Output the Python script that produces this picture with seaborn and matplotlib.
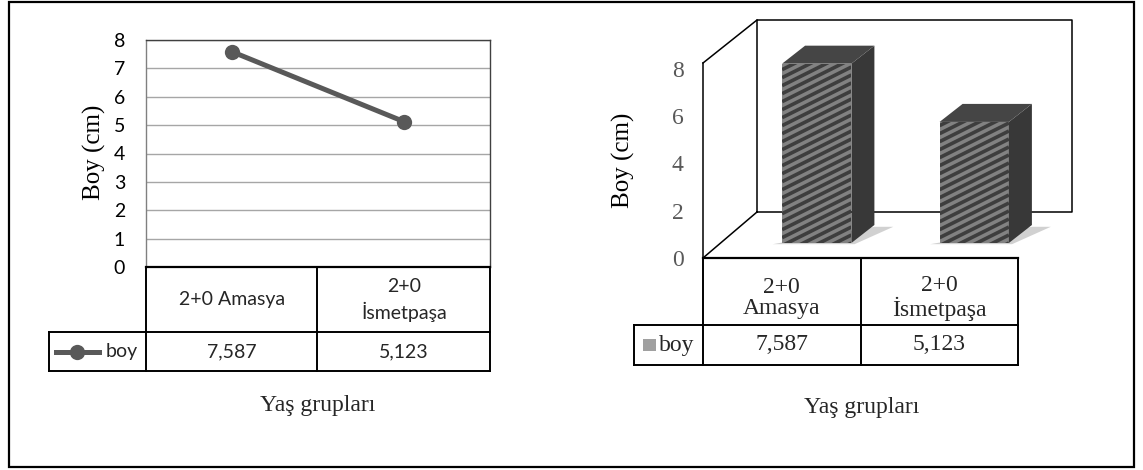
import numpy as np
import matplotlib
matplotlib.use("Agg")
import matplotlib.pyplot as plt
import matplotlib.transforms as mtransforms
from matplotlib.collections import LineCollection
from matplotlib.lines import Line2D
from matplotlib.patches import Polygon, Rectangle
import pandas as pd
import seaborn as sns

# ---- data -------------------------------------------------------------
groups = ["2+0 Amasya", "2+0 İsmetpaşa"]
group_labels_left = ["2+0 Amasya", "2+0\nİsmetpaşa"]
group_labels_right = ["2+0\nAmasya", "2+0\nİsmetpaşa"]
boy = [7.587, 5.123]
boy_text = ["7,587", "5,123"]
series_name = "boy"
y_label = "Boy (cm)"
x_label = "Yaş grupları"
left_ticks = list(range(0, 9))
right_ticks = [0, 2, 4, 6, 8]

# ---- figure setup ------------------------------------------------------
W, H = 1143, 470
sns.set_theme(style="white")
plt.rcParams["font.family"] = ["DejaVu Sans"]

SANS = "Lato"
SERIF = "Liberation Serif"

fig = plt.figure(figsize=(W / 100, H / 100), dpi=100)
fig.patch.set_facecolor("white")


def fx(x):
    return x / W


def fy(y):
    return 1 - y / H


def fig_line(xs, ys, lw=1.4, color="black", target=None, zorder=3):
    ln = Line2D([fx(x) for x in xs], [fy(y) for y in ys],
                transform=fig.transFigure, color=color, lw=lw,
                solid_capstyle="projecting", zorder=zorder, clip_on=False)
    if target is None:
        fig.add_artist(ln)
    else:
        target.add_line(ln)
    return ln


# outer frame
fig.add_artist(Rectangle((fx(9), fy(467)), fx(1134) - fx(9), fy(2) - fy(467),
                         transform=fig.transFigure, fill=False,
                         edgecolor="black", lw=1.6))

df = pd.DataFrame({"grup": groups, "boy": boy})

# ---- left chart: line with data table -----------------------------------
axL = fig.add_axes([fx(146), fy(267), fx(490) - fx(146), fy(40) - fy(267)])
sns.lineplot(data=df, x="grup", y="boy", ax=axL, color="#595959", lw=3.6,
             marker="o", markersize=11, markeredgewidth=0, sort=False,
             zorder=5)
axL.set_xlim(-0.5, 1.5)
axL.set_ylim(0, 8)
axL.set_yticks(left_ticks)
axL.set_xticks([])
axL.set_xlabel("")
axL.grid(axis="y", color="#a6a6a6", lw=1.0)
axL.tick_params(axis="y", length=0, pad=15, labelsize=14, labelcolor="black")
for lab in axL.get_yticklabels():
    lab.set_fontfamily(SANS)
for side, col, lw in [("left", "#808080", 1.0), ("top", "#404040", 1.0),
                      ("right", "#404040", 1.0), ("bottom", "black", 1.6)]:
    axL.spines[side].set_color(col)
    axL.spines[side].set_linewidth(lw)
axL.set_ylabel(y_label, fontfamily=SERIF, fontsize=18, color="black")
axL.yaxis.set_label_coords((106 - 146) / 344, (267 - 152) / 227)

# table grid under the left chart
for x in (146, 317, 490):
    fig_line([x, x], [267, 371])
fig_line([49, 490], [332, 332])
fig_line([49, 490], [371, 371])
fig_line([49, 49], [332, 371])

bL = mtransforms.blended_transform_factory(axL.transData, fig.transFigure)
for i, (lab, val) in enumerate(zip(group_labels_left, boy_text)):
    axL.text(i, fy(300), lab, transform=bL, ha="center", va="center",
             fontfamily=SANS, fontsize=14, linespacing=1.35, clip_on=False)
    axL.text(i, fy(352), val, transform=bL, ha="center", va="center",
             fontfamily=SANS, fontsize=14, clip_on=False)

# legend key in the left table
fig_line([56, 99], [352, 352], lw=3.6, color="#595959")
fig.add_artist(Line2D([fx(77)], [fy(352)], transform=fig.transFigure,
                      marker="o", markersize=11, markeredgewidth=0,
                      color="#595959", lw=0))
fig.text(fx(106), fy(352), series_name, ha="left", va="center",
         fontfamily=SANS, fontsize=14)
fig.text(fx(318), fy(405), x_label, ha="center", va="center",
         fontfamily=SERIF, fontsize=17)

# ---- right chart: pseudo-3D columns with data table ---------------------
axR = fig.add_axes([fx(703), fy(258), 315 / W, fy(63) - fy(258)])
axR.set_xlim(-0.5, 1.5)
axR.set_ylim(0, 8.25)

sns.barplot(data=df, x="grup", y="boy", ax=axR, width=0.44, color="#828282",
            saturation=1, linewidth=0, zorder=4)

# walls of the 3D box (back wall, side wall, floor edge)
fig_line([757, 757, 1072, 1072, 757], [212, 20, 20, 212, 212], lw=1.1,
         target=axR, zorder=0.5)
fig_line([703, 757], [63, 20], lw=1.1, target=axR, zorder=0.5)
fig_line([703, 757], [258, 212], lw=1.1, target=axR, zorder=0.5)

# pixel size of one data unit on this axes
px_x = 1 / 157.5
px_y = 8.25 / 195

# columns sit part-way back in the box
shift = mtransforms.offset_copy(axR.transData, fig=fig, x=35, y=15,
                                units="dots")
dx_d, dy_d = 23 * px_x, 18 * px_y
for p in list(axR.patches):
    p.set_transform(shift)
    p.set_clip_on(False)
    x0, w, h = p.get_x(), p.get_width(), p.get_height()

    # diagonal stripes on the front face
    w_px = w / px_x
    rise = 0.5 * w_px * px_y
    step = 8 * px_y
    starts = np.arange(-rise - step, h + step, step)
    segs = [[(x0, s), (x0 + w, s + rise)] for s in starts]
    stripes = LineCollection(segs, colors="#3e3e3e", linewidths=2.6,
                             transform=shift, zorder=4.1)
    axR.add_collection(stripes)
    stripes.set_clip_path(p)

    # soft floor shadow
    axR.add_patch(Polygon([(x0 - 0.06, -0.05), (x0 + w + 0.02, -0.05),
                           (x0 + w + dx_d + 0.12, dy_d * 0.9),
                           (x0 + w + dx_d, dy_d * 0.9)],
                          closed=True, transform=shift, facecolor="#9a9a9a",
                          edgecolor="none", alpha=0.45, zorder=3,
                          clip_on=False))
    side = Polygon([(x0 + w, 0), (x0 + w + dx_d, dy_d),
                    (x0 + w + dx_d, h + dy_d), (x0 + w, h)],
                   closed=True, transform=shift, facecolor="#383838",
                   edgecolor="none", zorder=4, clip_on=False)
    top = Polygon([(x0, h), (x0 + dx_d, h + dy_d), (x0 + w + dx_d, h + dy_d),
                   (x0 + w, h)],
                  closed=True, transform=shift, facecolor="#454545",
                  edgecolor="none", zorder=4, clip_on=False)
    axR.add_patch(side)
    axR.add_patch(top)

axR.set_yticks(right_ticks)
axR.set_xticks([])
axR.set_xlabel("")
axR.tick_params(axis="y", length=0, pad=14, labelsize=17, labelcolor="#595959")
for lab in axR.get_yticklabels():
    lab.set_fontfamily(SERIF)
axR.patch.set_alpha(0)
for side_name in ("top", "right"):
    axR.spines[side_name].set_visible(False)
axR.spines["left"].set_color("black")
axR.spines["left"].set_linewidth(1.1)
axR.spines["bottom"].set_color("black")
axR.spines["bottom"].set_linewidth(1.6)
axR.set_ylabel(y_label, fontfamily=SERIF, fontsize=18, color="black")
axR.yaxis.set_label_coords((635 - 703) / 315, (258 - 160) / 195)

# table grid under the right chart
for x in (703, 861, 1018):
    fig_line([x, x], [258, 365])
fig_line([634, 1018], [325, 325])
fig_line([634, 1018], [365, 365])
fig_line([634, 634], [325, 365])

bR = mtransforms.blended_transform_factory(axR.transData, fig.transFigure)
for i, (lab, val) in enumerate(zip(group_labels_right, boy_text)):
    axR.text(i, fy(298), lab, transform=bR, ha="center", va="center",
             fontfamily=SERIF, fontsize=17, linespacing=1.05, clip_on=False)
    axR.text(i, fy(345), val, transform=bR, ha="center", va="center",
             fontfamily=SERIF, fontsize=17, clip_on=False)

fig.add_artist(Rectangle((fx(643), fy(351)), 13 / W, 12 / H,
                         transform=fig.transFigure, facecolor="#a0a0a0",
                         edgecolor="none"))
fig.text(fx(659), fy(345), series_name, ha="left", va="center",
         fontfamily=SERIF, fontsize=17)
fig.text(fx(862), fy(408), x_label, ha="center", va="center",
         fontfamily=SERIF, fontsize=17)

fig.savefig("out.png", dpi=100, facecolor="white")
